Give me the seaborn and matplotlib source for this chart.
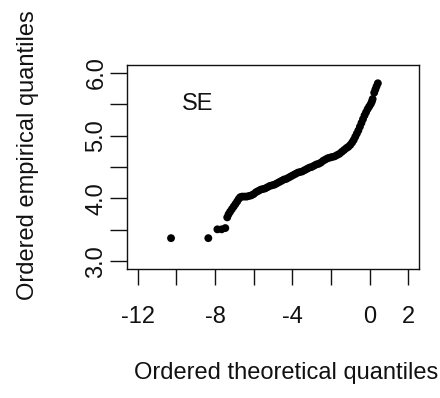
import matplotlib
matplotlib.use("Agg")
import matplotlib.pyplot as plt
import seaborn as sns
import pandas as pd

theoretical = [-10.28, -8.35, -7.88, -7.66, -7.47,
               -7.37, -7.30, -7.22, -7.13, -7.04, -6.95, -6.86, -6.78, -6.70,
               -6.60, -6.48, -6.36, -6.24, -6.12, -6.00, -5.88, -5.76, -5.64, -5.52,
               -5.40, -5.28, -5.16, -5.04, -4.92, -4.80, -4.68, -4.56, -4.44, -4.32,
               -4.20, -4.08, -3.96, -3.84, -3.72, -3.60, -3.48, -3.36, -3.24, -3.12,
               -3.00, -2.88, -2.76, -2.64, -2.52, -2.40, -2.28, -2.16, -2.04, -1.92,
               -1.80, -1.68, -1.56, -1.44, -1.32, -1.20, -1.10, -1.00, -0.90, -0.82,
               -0.74, -0.66, -0.58, -0.50, -0.42, -0.34, -0.26, -0.18, -0.10, -0.02,
               0.06, 0.12, 0.16,
               0.24, 0.30, 0.36, 0.43]
empirical = [3.37, 3.37, 3.51, 3.51, 3.53,
             3.70, 3.75, 3.79, 3.83, 3.87, 3.91, 3.95, 3.99, 4.02,
             4.03, 4.03, 4.03, 4.04, 4.05, 4.07, 4.10, 4.12, 4.14, 4.15,
             4.16, 4.18, 4.20, 4.21, 4.22, 4.24, 4.26, 4.28, 4.30, 4.31,
             4.33, 4.35, 4.37, 4.39, 4.41, 4.42, 4.43, 4.45, 4.47, 4.49,
             4.50, 4.52, 4.54, 4.55, 4.57, 4.60, 4.62, 4.64, 4.65, 4.66,
             4.67, 4.69, 4.71, 4.74, 4.77, 4.80, 4.82, 4.85, 4.89, 4.93,
             4.98, 5.03, 5.08, 5.14, 5.20, 5.26, 5.32, 5.37, 5.42, 5.46,
             5.50, 5.54, 5.58,
             5.68, 5.73, 5.78, 5.83]

x_ticks = [-12, -10, -8, -6, -4, -2, 0, 2]
x_tick_labels = ["-12", "", "-8", "", "-4", "", "0", "2"]
y_ticks = [3.0, 3.5, 4.0, 4.5, 5.0, 5.5, 6.0]
y_tick_labels = ["3.0", "", "4.0", "", "5.0", "", "6.0"]

df = pd.DataFrame({"theo": theoretical, "emp": empirical})

sns.set_style("ticks")
plt.rcParams["font.family"] = ["Liberation Sans", "DejaVu Sans"]

FS = 17
TXT = "#111111"

fig = plt.figure(figsize=(4.4, 3.98), dpi=100)
ax = fig.add_axes([127 / 440, 1 - 269 / 398, 292 / 440, 204 / 398])
sns.scatterplot(data=df, x="theo", y="emp", ax=ax, color="black",
                s=32, edgecolor="none", linewidth=0)

ax.set_xlim(-12.56, 2.56)
ax.set_ylim(2.88, 6.12)
ax.set_xticks(x_ticks)
ax.set_xticklabels(x_tick_labels)
ax.set_yticks(y_ticks)
ax.set_yticklabels(y_tick_labels, rotation=90, va="center")

for sp in ax.spines.values():
    sp.set_visible(True)
    sp.set_color(TXT)
    sp.set_linewidth(1.0)

ax.tick_params(axis="x", direction="out", length=11.5, width=1.0,
               pad=15, labelsize=FS, colors=TXT)
ax.tick_params(axis="y", direction="out", length=12, width=1.0,
               pad=2, labelsize=FS, colors=TXT)

ax.set_xlabel("Ordered theoretical quantiles", fontsize=FS, color=TXT)
ax.set_ylabel("Ordered empirical quantiles", fontsize=FS, color=TXT)
ax.xaxis.set_label_coords(0.545, -0.51)
ax.yaxis.set_label_coords(-0.339, 0.56)
ax.xaxis.label.set_va("center")
ax.yaxis.label.set_va("center")

ax.text(-8.88, 5.50, "SE", fontsize=FS, ha="center", va="center", color=TXT)

fig.savefig("out.png", dpi=100, facecolor="white")
